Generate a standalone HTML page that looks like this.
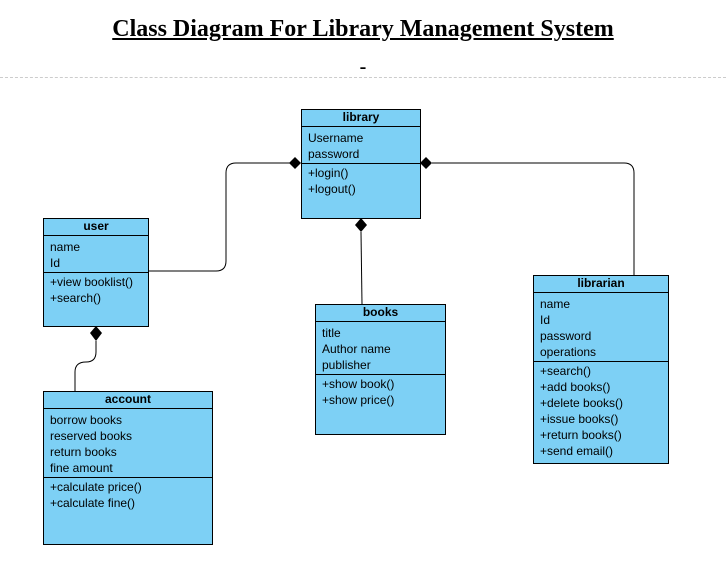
<!DOCTYPE html>
<html><head><style>
body{margin:0;width:726px;height:574px;background:#fff;position:relative;overflow:hidden;font-family:"Liberation Sans",Arial,sans-serif;}
.t{position:absolute;left:0;width:726px;text-align:center;font-family:"Liberation Serif",serif;font-weight:bold;color:#000}
.b{position:absolute;background:#7dd0f5;border:1px solid #000;box-sizing:border-box;font-size:12px;color:#000}
.h{text-align:center;font-weight:bold;border-bottom:1px solid #000;height:17px;line-height:15px;box-sizing:border-box}
.s{padding:3px 0 0 6px;line-height:16px;box-sizing:border-box}
.s+.s{border-top:1px solid #000;padding-top:1px}
</style></head><body>
<div class="t" style="top:16px;font-size:24px;text-decoration:underline">Class Diagram For Library Management System</div>
<div class="t" style="top:56px;font-size:20px">-</div>
<div style="position:absolute;left:0;top:77px;width:726px;border-top:1px dashed #ccc"></div>
<svg style="position:absolute;left:0;top:0" width="726" height="574">
<g fill="none" stroke="#000" stroke-width="1">
<path d="M148 271 H216 Q226 271 226 261 V173 Q226 163 236 163 H290"/>
<path d="M432 163 H624 Q634 163 634 173 V275"/>
<path d="M361 232 L362 304"/>
<path d="M96 341 V352 Q96 362 86 362 Q75 362 75 372 V396"/>
</g>
<g fill="#000">
<polygon points="301,163 295,157 289,163 295,169"/>
<polygon points="420,163 426,157 432,163 426,169"/>
<polygon points="361,218 355,225 361,232 367,225"/>
<polygon points="96,326 90,333 96,341 102,333"/>
</g>
</svg>
<div class="b" style="left:301px;top:109px;width:120px;height:110px"><div class="h">library</div><div class="s" style="height:36px">Username<br>password</div><div class="s">+login()<br>+logout()</div></div>
<div class="b" style="left:43px;top:218px;width:106px;height:109px"><div class="h">user</div><div class="s" style="height:36px">name<br>Id</div><div class="s">+view booklist()<br>+search()</div></div>
<div class="b" style="left:43px;top:391px;width:170px;height:154px"><div class="h">account</div><div class="s" style="height:68px">borrow books<br>reserved books<br>return books<br>fine amount</div><div class="s">+calculate price()<br>+calculate fine()</div></div>
<div class="b" style="left:315px;top:304px;width:131px;height:131px"><div class="h">books</div><div class="s" style="height:52px">title<br>Author name<br>publisher</div><div class="s">+show book()<br>+show price()</div></div>
<div class="b" style="left:533px;top:275px;width:136px;height:189px"><div class="h">librarian</div><div class="s" style="height:68px">name<br>Id<br>password<br>operations</div><div class="s">+search()<br>+add books()<br>+delete books()<br>+issue books()<br>+return books()<br>+send email()</div></div>
</body></html>
